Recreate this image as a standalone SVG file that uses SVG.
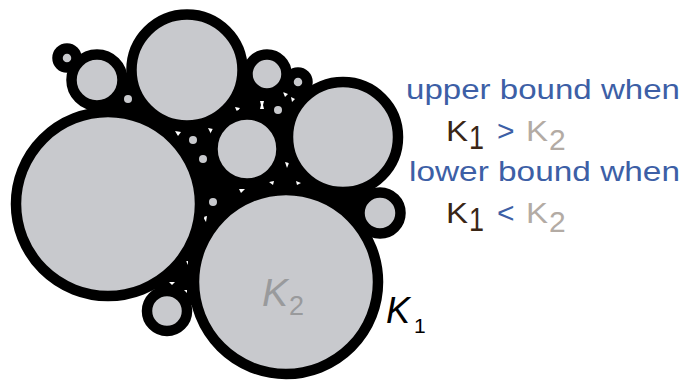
<svg xmlns="http://www.w3.org/2000/svg" width="686" height="381" viewBox="0 0 686 381">
<style>
.c{fill:#c8c9cd;stroke:#000;stroke-width:10.5}
.dot{fill:#c8c9cd}
.sp{fill:#fff}
.t{font-family:"Liberation Sans",Arial,sans-serif}
.blue{fill:#3d5fa6}
.brown{fill:#3a2616}
.lg{fill:#b3aba4}
</style>
<rect width="686" height="381" fill="#fff"/>
<g id="gaps">
<polygon points="108,204 97,80 187,70 267,74 298,82 343,137 380,213 287,283 167,311" fill="#000"/>
</g>
<g id="specks">
<path class="sp" d="M175,131 l6,1 -3,4z"/>
<path class="sp" d="M208,128 l5,1 -2,5z"/>
<path class="sp" d="M235,107 l5,1 -3,4z"/>
<path class="sp" d="M260,101 l4,0 -1,4 1,4 -4,0 1,-4z"/>
<path class="sp" d="M283,92 l5,2 -3,3z"/>
<path class="sp" d="M291,97 l4,2 -3,3z"/>
<path class="sp" d="M285,162 l4,1 -2,5z"/>
<path class="sp" d="M239,189 l6,0 -4,4z"/>
<path class="sp" d="M269,182 l5,-1 -1,4z"/>
<path class="sp" d="M296,181 l5,2 -4,2z"/>
<path class="sp" d="M203,217 l4,-1 -1,6z"/>
<path class="sp" d="M169,282 l6,0 -3,3z"/>
<path class="sp" d="M184,290 l3,0 0,3z"/>
<path class="sp" d="M186,261 l2,0 0,4z"/>
</g>
<g id="dots">
<circle class="dot" cx="128" cy="99" r="4"/>
<circle class="dot" cx="193" cy="140" r="4"/>
<circle class="dot" cx="203" cy="159" r="4"/>
<circle class="dot" cx="278" cy="110" r="4"/>
<circle class="dot" cx="213" cy="202" r="4"/>
</g>
<g id="big-left"><circle class="c" cx="108" cy="204" r="92"/></g>
<g id="top"><circle class="c" cx="187" cy="70" r="55.5"/></g>
<g id="small-top-left"><circle class="c" cx="97" cy="80" r="25.5"/></g>
<g id="tiny-top-left"><circle class="c" cx="67" cy="58" r="9.5"/></g>
<g id="small-top"><circle class="c" cx="267" cy="74" r="19.5"/></g>
<g id="tiny-top"><circle class="c" cx="298" cy="82" r="9.5"/></g>
<g id="right"><circle class="c" cx="343" cy="137" r="55"/></g>
<g id="middle"><circle class="c" cx="247" cy="149" r="34.5"/></g>
<g id="small-right"><circle class="c" cx="380" cy="213" r="20.5"/></g>
<g id="small-bottom"><circle class="c" cx="167" cy="311" r="20"/></g>
<g id="k2-circle"><circle class="c" cx="286" cy="282" r="92"/>
<text class="t" x="262" y="306" font-size="39" font-style="italic" fill="#999a9c">K</text>
<text class="t" x="289" y="315" font-size="27" fill="#999a9c">2</text>
</g>
<g id="k1-label">
<text class="t" x="386" y="323" font-size="36" font-style="italic" fill="#000">K</text>
<text class="t" x="414" y="333" font-size="21" fill="#000">1</text>
</g>
<g id="legend">
<text class="t blue" x="406" y="99" font-size="28" textLength="274" lengthAdjust="spacingAndGlyphs">upper bound when</text>
<text class="t brown" x="446" y="141" font-size="30" textLength="22" lengthAdjust="spacingAndGlyphs">K</text>
<text class="t brown" x="469" y="149" font-size="34" textLength="15" lengthAdjust="spacingAndGlyphs">1</text>
<text class="t blue" x="497" y="141" font-size="30">&gt;</text>
<text class="t lg" x="526" y="141" font-size="30" textLength="22" lengthAdjust="spacingAndGlyphs">K</text>
<text class="t lg" x="549" y="150" font-size="30">2</text>
<text class="t blue" x="409" y="181" font-size="28" textLength="271" lengthAdjust="spacingAndGlyphs">lower bound when</text>
<text class="t brown" x="446" y="223" font-size="30" textLength="22" lengthAdjust="spacingAndGlyphs">K</text>
<text class="t brown" x="469" y="231" font-size="34" textLength="15" lengthAdjust="spacingAndGlyphs">1</text>
<text class="t blue" x="497" y="223" font-size="30">&lt;</text>
<text class="t lg" x="526" y="223" font-size="30" textLength="22" lengthAdjust="spacingAndGlyphs">K</text>
<text class="t lg" x="549" y="232" font-size="30">2</text>
</g>
</svg>
